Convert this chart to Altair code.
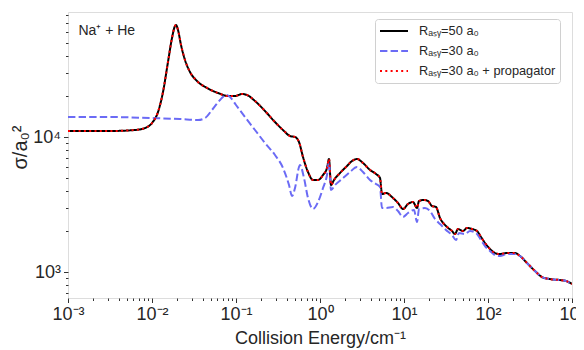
import altair as alt
import pandas as pd

# ---- data (collision energy in cm^-1, cross section in a0^2) ----
energy_50 = [0.001, 0.00316, 0.00627, 0.00825, 0.0100, 0.01179, 0.01352, 0.0155, 0.0173,
             0.01878, 0.0193, 0.0204, 0.02214, 0.0247, 0.02835, 0.03433, 0.0452, 0.0611,
             0.0803, 0.0973, 0.1179, 0.1352, 0.1683, 0.2214, 0.2912, 0.3727, 0.4394, 0.504,
             0.5623, 0.6275, 0.7197, 0.8253, 0.9467, 1.086, 1.2115, 1.2797, 1.352, 1.468,
             1.73, 2.096, 2.404, 2.757, 3.251, 3.937, 4.642, 5.179, 5.472, 6.105, 7.396,
             8.483, 9.73, 11.16, 12.8, 14.28, 15.09, 17.3, 19.31, 21.54, 24.04, 26.83,
             31.62, 37.27, 40.46, 43.94, 50.4, 56.23, 64.5, 73.96, 82.54, 92.1, 105.6,
             121.2, 139.0, 168.4, 209.6, 240.4, 291.3, 362.6, 439.4, 547.0, 719.7, 848.3, 1000.0]
sigma_50 = [11080, 11080, 11270, 11660, 12690, 15320, 21540, 35940, 54120,
            66400, 67540, 62030, 48030, 37190, 30300, 25980, 23070, 21180,
            20120, 20120, 20820, 20470, 18480, 15580, 12910, 11080, 10170, 10000,
            9180, 7110, 5505, 4803, 4803, 5230, 5894, 6871, 4410, 4803,
            5412, 6099, 6640, 6871, 6418, 5696, 5319, 4970, 3783, 3848, 3533,
            3245, 2929, 3189, 3300, 2979, 3357, 3415, 3357, 3083, 3030, 2512,
            2191, 2012, 1912, 2082, 2012, 2118, 2082, 2012, 1817, 1640, 1481,
            1382, 1359, 1382, 1382, 1314, 1166, 1017, 918, 887, 872, 858, 815]

energy_30 = [0.001, 0.00316, 0.00947, 0.02154, 0.03527, 0.04276, 0.0518, 0.0645, 0.076,
             0.0848, 0.1, 0.128, 0.1683, 0.2214, 0.2912, 0.3627, 0.4276, 0.4642, 0.504,
             0.5623, 0.5779, 0.6449, 0.7197, 0.8253, 0.9467, 1.086, 1.2115, 1.2797, 1.352,
             1.509, 1.827, 2.276, 2.757, 3.251, 3.937, 4.642, 5.179, 5.472, 6.105, 7.396,
             8.483, 9.73, 11.16, 13.15, 14.28, 15.09, 17.78, 20.4, 23.39, 26.83, 31.62,
             37.27, 41.6, 45.16, 53.25, 61.05, 71.97, 82.54, 92.1, 105.6, 121.2, 139.0,
             168.4, 209.6, 240.4, 291.3, 362.6, 439.4, 547.0, 719.7, 848.3, 1000.0]
sigma_30 = [14060, 14060, 13820, 13590, 13360, 13820, 15850, 18790, 20470,
            19790, 17260, 14060, 11270, 9028, 7356, 5894, 4410, 3656, 4190,
            5995, 6203, 4970, 3533, 2929, 3300, 4190, 5230, 6527, 4049,
            4410, 4886, 5505, 5995, 5505, 4803, 4487, 4263, 2979, 2979, 3030,
            2830, 2555, 2735, 2880, 2347, 2929, 2979, 2830, 2470, 2268, 2047,
            1880, 1726, 1945, 1912, 2012, 1945, 1726, 1558, 1431, 1336, 1314,
            1359, 1359, 1314, 1166, 1017, 918, 887, 872, 858, 815]

energy_30p = list(energy_50)
sigma_30p = list(sigma_50)

series_names = ["Rₐₛᵧ=50 a₀", "Rₐₛᵧ=30 a₀", "Rₐₛᵧ=30 a₀ + propagator"]
series_colors = ["#000000", "#6b6bf5", "#ff0000"]

x_major = [0.001, 0.01, 0.1, 1, 10, 100, 1000]
x_tick_labels = ["10⁻³", "10⁻²", "10⁻¹", "10⁰", "10¹", "10²", "10³"]
y_major = [1000, 10000]
y_tick_labels = ["10³", "10⁴"]

annotation_text = ["Na⁺ + He"]
annotation_energy = [0.00133]
annotation_sigma = [61000]

# ---- tables ----
frames = []
for name, es, ss in zip(series_names, [energy_50, energy_30, energy_30p], [sigma_50, sigma_30, sigma_30p]):
    frames.append(pd.DataFrame({"energy": es, "sigma": ss, "series": name, "idx": range(len(es))}))
df = pd.concat(frames, ignore_index=True)
ann = pd.DataFrame({"energy": annotation_energy, "sigma": annotation_sigma, "label": annotation_text})

FONT = "Liberation Sans"
TXT = "#262626"

x_minor = [m * 10.0 ** k for k in range(-3, 3) for m in range(2, 10)]
y_minor = [700, 800, 900] + [m * 1000 for m in range(2, 10)] + [m * 10000 for m in range(2, 9)]


def label_expr(majors, labels):
    expr = "''"
    for v, l in reversed(list(zip(majors, labels))):
        expr = f"datum.value == {v} ? '{l}' : ({expr})"
    return expr


def major_test(majors):
    return "indexof([" + ",".join(str(v) for v in majors) + "], datum.value) >= 0"


x_axis = alt.Axis(
    values=sorted(x_major + x_minor),
    labelExpr=label_expr(x_major, x_tick_labels),
    tickSize={"condition": {"test": major_test(x_major), "value": 4.5}, "value": 2.5},
    tickColor="#333333", domain=False, grid=False,
    labelFont=FONT, labelFontSize=18, labelColor=TXT, labelPadding=3,
    labelFlush=False, labelOverlap=False, labelBound=False,
    title="Collision Energy/cm⁻¹", titleFont=FONT, titleFontSize=18,
    titleFontWeight="normal", titleColor=TXT, titlePadding=6,
)
y_axis = alt.Axis(
    values=sorted(y_major + y_minor),
    labelExpr=label_expr(y_major, y_tick_labels),
    tickSize={"condition": {"test": major_test(y_major), "value": 4.5}, "value": 2.5},
    tickColor="#333333", domain=False, grid=False,
    labelFont=FONT, labelFontSize=18, labelColor=TXT, labelPadding=3,
    labelOverlap=False, labelBound=False,
    title="σ/a₀²", titleFont=FONT, titleFontSize=20, titleY=135,
    titleFontWeight="normal", titleColor=TXT, titlePadding=2,
)

xs = alt.Scale(type="log", domain=[0.001, 1000], nice=False)
ys = alt.Scale(type="log", domain=[642, 84300], nice=False)

legend = alt.Legend(
    title=None, orient="none", legendX=307, legendY=7,
    symbolType="stroke", symbolSize=784, clipHeight=16, rowPadding=4,
    labelFont=FONT, labelFontSize=12.8, labelColor=TXT, labelOffset=10, labelLimit=400,
    padding=4, fillColor="white", strokeColor="#d0d0d0", cornerRadius=3,
)

color_scale = alt.Scale(domain=series_names, range=series_colors)
dash_scale = alt.Scale(domain=series_names, range=[[1, 0], [7.4, 3.2], [2, 3.3]])
width_scale = alt.Scale(domain=series_names, range=[2.0, 2.0, 1.8])

layers = []
for i, name in enumerate(series_names):
    layers.append(
        alt.Chart(df)
        .transform_filter(alt.datum.series == name)
        .mark_line(interpolate="monotone", clip=True)
        .encode(
            x=alt.X("energy:Q", scale=xs, axis=x_axis),
            y=alt.Y("sigma:Q", scale=ys, axis=y_axis),
            color=alt.Color("series:N", scale=color_scale, legend=legend),
            strokeDash=alt.StrokeDash("series:N", scale=dash_scale, legend=legend),
            strokeWidth=alt.StrokeWidth("series:N", scale=width_scale, legend=legend),
            order="idx:Q",
        )
    )

text = alt.Chart(ann).mark_text(align="left", baseline="middle", font=FONT, fontSize=14, color=TXT).encode(
    x=alt.X("energy:Q", scale=xs),
    y=alt.Y("sigma:Q", scale=ys),
    text="label:N",
)

chart = (
    alt.layer(*layers, text)
    .properties(
        width=504, height=286,
        autosize=alt.AutoSizeParams(type="none"),
        padding={"left": 60, "top": 4, "right": 4, "bottom": 52},
    )
    .configure_view(stroke="#808080", strokeWidth=1.2)
    .configure(background="white")
)

chart.save("out.html", embed_options={"renderer": "svg", "actions": False})
